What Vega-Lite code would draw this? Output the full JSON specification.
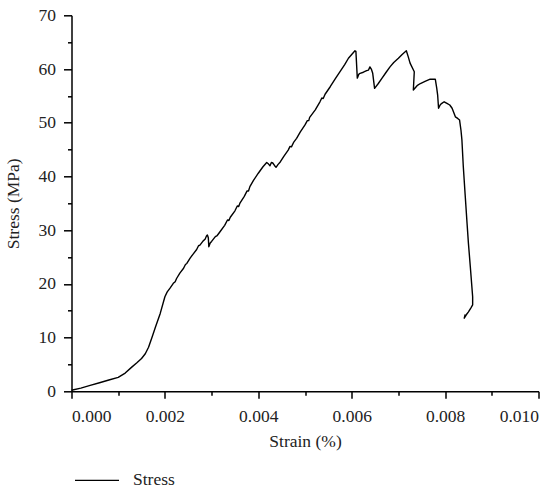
{
  "$schema": "https://vega.github.io/schema/vega-lite/v6.json",
  "autosize": {"type": "none"},
  "padding": {"left": 71.5, "top": 15.3, "right": 21.5, "bottom": 104.7},
  "width": 467,
  "height": 376,
  "background": "white",
  "config": {
    "view": {"stroke": null},
    "font": "Liberation Serif",
    "axis": {"labelFont": "Liberation Serif", "titleFont": "Liberation Serif", "labelColor": "#222", "titleColor": "#222", "titleFontWeight": "normal", "domainColor": "black", "tickColor": "black", "domainWidth": 1.5, "tickWidth": 1.5, "grid": false},
    "legend": {"labelFont": "Liberation Serif"}
  },
  "data": {"values": [
    {"strain": 0, "stress": 0.2},
    {"strain": 0.0002, "stress": 0.6},
    {"strain": 0.0004, "stress": 1.1},
    {"strain": 0.0006, "stress": 1.6},
    {"strain": 0.0008, "stress": 2.1},
    {"strain": 0.001, "stress": 2.6},
    {"strain": 0.00115, "stress": 3.4},
    {"strain": 0.00129, "stress": 4.5},
    {"strain": 0.0014, "stress": 5.3},
    {"strain": 0.0015, "stress": 6.1},
    {"strain": 0.00158, "stress": 7.0},
    {"strain": 0.00165, "stress": 8.2},
    {"strain": 0.00173, "stress": 10.2},
    {"strain": 0.0018, "stress": 12.0},
    {"strain": 0.0019, "stress": 14.5},
    {"strain": 0.002, "stress": 17.6},
    {"strain": 0.00205, "stress": 18.5},
    {"strain": 0.00211, "stress": 19.2},
    {"strain": 0.00218, "stress": 20.1},
    {"strain": 0.00222, "stress": 20.4},
    {"strain": 0.00225, "stress": 21.0},
    {"strain": 0.00232, "stress": 22.0},
    {"strain": 0.0024, "stress": 22.9},
    {"strain": 0.00244, "stress": 23.6},
    {"strain": 0.00247, "stress": 23.8},
    {"strain": 0.00254, "stress": 24.8},
    {"strain": 0.0026, "stress": 25.5},
    {"strain": 0.00268, "stress": 26.4},
    {"strain": 0.00272, "stress": 27.1},
    {"strain": 0.00275, "stress": 27.2},
    {"strain": 0.00282, "stress": 28.0},
    {"strain": 0.00286, "stress": 28.3},
    {"strain": 0.00289, "stress": 28.9},
    {"strain": 0.00291, "stress": 29.1},
    {"strain": 0.00293, "stress": 28.6},
    {"strain": 0.00294, "stress": 26.9},
    {"strain": 0.00297, "stress": 27.6},
    {"strain": 0.003, "stress": 27.9},
    {"strain": 0.00308, "stress": 28.8},
    {"strain": 0.00312, "stress": 29.0},
    {"strain": 0.00318, "stress": 29.7},
    {"strain": 0.00328, "stress": 30.9},
    {"strain": 0.00334, "stress": 31.9},
    {"strain": 0.00337, "stress": 31.8},
    {"strain": 0.0034, "stress": 32.4},
    {"strain": 0.0035, "stress": 33.6},
    {"strain": 0.00355, "stress": 34.5},
    {"strain": 0.00358, "stress": 34.4},
    {"strain": 0.00361, "stress": 35.1},
    {"strain": 0.0037, "stress": 36.3},
    {"strain": 0.00376, "stress": 37.3},
    {"strain": 0.00379, "stress": 37.3},
    {"strain": 0.00382, "stress": 38.1},
    {"strain": 0.0039, "stress": 39.3},
    {"strain": 0.004, "stress": 40.6},
    {"strain": 0.0041, "stress": 41.8},
    {"strain": 0.00418, "stress": 42.6},
    {"strain": 0.00422, "stress": 42.3},
    {"strain": 0.00425, "stress": 42.0},
    {"strain": 0.00428, "stress": 42.6},
    {"strain": 0.00431, "stress": 42.5},
    {"strain": 0.00435, "stress": 42.0},
    {"strain": 0.00438, "stress": 41.7},
    {"strain": 0.00442, "stress": 42.2},
    {"strain": 0.00447, "stress": 42.7},
    {"strain": 0.00455, "stress": 43.8},
    {"strain": 0.00464, "stress": 44.9},
    {"strain": 0.00468, "stress": 45.6},
    {"strain": 0.00471, "stress": 45.5},
    {"strain": 0.00476, "stress": 46.4},
    {"strain": 0.00482, "stress": 47.1},
    {"strain": 0.0049, "stress": 48.3},
    {"strain": 0.005, "stress": 49.6},
    {"strain": 0.00505, "stress": 50.4},
    {"strain": 0.00508, "stress": 50.4},
    {"strain": 0.0051, "stress": 51.0},
    {"strain": 0.00522, "stress": 52.4},
    {"strain": 0.00532, "stress": 53.9},
    {"strain": 0.00536, "stress": 54.6},
    {"strain": 0.00539, "stress": 54.5},
    {"strain": 0.00543, "stress": 55.3},
    {"strain": 0.00554, "stress": 56.7},
    {"strain": 0.00565, "stress": 58.2},
    {"strain": 0.00575, "stress": 59.5},
    {"strain": 0.00585, "stress": 60.8},
    {"strain": 0.00593, "stress": 62.0},
    {"strain": 0.006, "stress": 62.7},
    {"strain": 0.00607, "stress": 63.4},
    {"strain": 0.00609, "stress": 63.3},
    {"strain": 0.00612, "stress": 58.3},
    {"strain": 0.00615, "stress": 59.0},
    {"strain": 0.00618, "stress": 59.2},
    {"strain": 0.00625, "stress": 59.4},
    {"strain": 0.00632, "stress": 59.7},
    {"strain": 0.00636, "stress": 59.8},
    {"strain": 0.00639, "stress": 60.4},
    {"strain": 0.00642, "stress": 60.0},
    {"strain": 0.00645, "stress": 59.2},
    {"strain": 0.00649, "stress": 56.4},
    {"strain": 0.00657, "stress": 57.3},
    {"strain": 0.00665, "stress": 58.3},
    {"strain": 0.00673, "stress": 59.3},
    {"strain": 0.00682, "stress": 60.4},
    {"strain": 0.0069, "stress": 61.2},
    {"strain": 0.007, "stress": 62.0},
    {"strain": 0.00708, "stress": 62.7},
    {"strain": 0.00717, "stress": 63.4},
    {"strain": 0.00721, "stress": 62.3},
    {"strain": 0.00725, "stress": 61.1},
    {"strain": 0.00734, "stress": 59.5},
    {"strain": 0.00732, "stress": 56.1},
    {"strain": 0.0074, "stress": 56.9},
    {"strain": 0.00747, "stress": 57.3},
    {"strain": 0.00757, "stress": 57.7},
    {"strain": 0.00768, "stress": 58.1},
    {"strain": 0.00779, "stress": 58.1},
    {"strain": 0.00782, "stress": 56.5},
    {"strain": 0.00784, "stress": 55.2},
    {"strain": 0.00786, "stress": 52.7},
    {"strain": 0.0079, "stress": 53.4},
    {"strain": 0.00793, "stress": 53.6},
    {"strain": 0.00798, "stress": 53.9},
    {"strain": 0.00804, "stress": 53.6},
    {"strain": 0.0081, "stress": 53.3},
    {"strain": 0.00815, "stress": 52.7},
    {"strain": 0.00822, "stress": 51.1},
    {"strain": 0.00827, "stress": 50.8},
    {"strain": 0.00831, "stress": 50.5},
    {"strain": 0.00834, "stress": 48.6},
    {"strain": 0.00836, "stress": 46.8},
    {"strain": 0.00839, "stress": 41.8},
    {"strain": 0.00843, "stress": 36.5},
    {"strain": 0.00847, "stress": 31.3},
    {"strain": 0.0085, "stress": 27.5},
    {"strain": 0.00854, "stress": 23.2},
    {"strain": 0.00859, "stress": 17.6},
    {"strain": 0.00859, "stress": 16.1},
    {"strain": 0.00855, "stress": 15.5},
    {"strain": 0.0085, "stress": 14.8},
    {"strain": 0.00845, "stress": 14.2},
    {"strain": 0.00841, "stress": 13.6},
    {"strain": 0.00843, "stress": 14.3}
  ]},
  "layer": [
    {
      "mark": {"type": "line", "strokeWidth": 1.4, "strokeJoin": "round"},
      "encoding": {
        "x": {"field": "strain", "type": "quantitative", "scale": {"domain": [0, 0.01], "nice": false, "zero": false},
          "axis": {"title": "Strain (%)", "values": [0, 0.002, 0.004, 0.006, 0.008, 0.01], "format": ".3f", "tickSize": 7, "labelFontSize": 17.5, "titleFontSize": 17.5, "labelPadding": 9, "titlePadding": 8, "orient": "bottom"}},
        "y": {"field": "stress", "type": "quantitative", "scale": {"domain": [0, 70], "nice": false},
          "axis": {"title": "Stress (MPa)", "values": [0, 10, 20, 30, 40, 50, 60, 70], "tickSize": 8, "labelFontSize": 17.5, "titleFontSize": 17.5, "labelPadding": 8, "titlePadding": 16, "orient": "left"}},
        "color": {"datum": "Stress", "type": "nominal", "scale": {"range": ["black"]},
          "legend": {"title": null, "orient": "none", "legendX": 2.5, "legendY": 442, "symbolType": "stroke", "symbolSize": 1936, "symbolStrokeWidth": 1.2, "labelFontSize": 17.5, "labelColor": "#222", "labelOffset": 13, "padding": 0}},
        "order": {"value": null}
      }
    },
    {
      "mark": {"type": "line", "opacity": 0},
      "encoding": {
        "x": {"field": "strain", "type": "quantitative",
          "axis": {"title": null, "values": [0.001, 0.003, 0.005, 0.007, 0.009], "labels": false, "domain": false, "tickSize": 4, "orient": "bottom"}},
        "y": {"field": "stress", "type": "quantitative",
          "axis": {"title": null, "values": [5, 15, 25, 35, 45, 55, 65], "labels": false, "domain": false, "tickSize": 4, "orient": "left"}}
      }
    }
  ],
  "resolve": {"axis": {"x": "independent", "y": "independent"}}
}
